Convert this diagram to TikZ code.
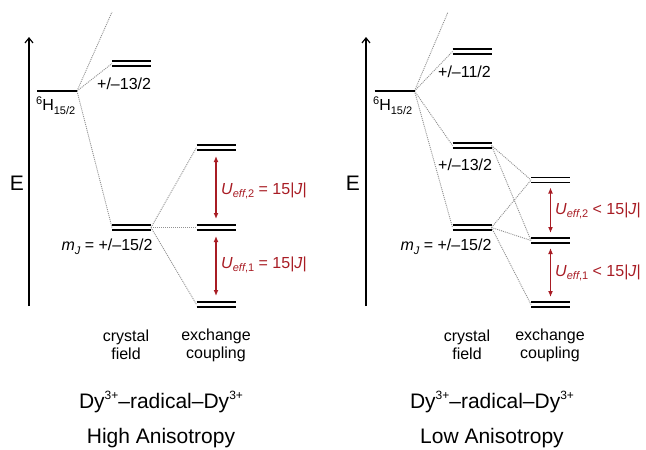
\documentclass[tikz,border=0pt]{standalone}
\usepackage{fontspec}
\setmainfont{Liberation Sans}
\usetikzlibrary{arrows.meta}
\definecolor{ured}{RGB}{168,28,36}
\definecolor{dotgray}{RGB}{145,145,145}
\newcommand{\myU}[1]{\textit{U}\raisebox{-0.45ex}{\fontsize{11}{12}\selectfont\textit{eff},#1}}
\newcommand{\myH}{\raisebox{0.7ex}{\fontsize{11}{12}\selectfont 6}H\raisebox{-0.5ex}{\fontsize{11}{12}\selectfont 15/2}}
\newcommand{\mymJ}{\textit{m}\raisebox{-0.5ex}{\fontsize{11}{12}\selectfont\textit{J}} = +/–15/2}
\newcommand{\mysup}{\raisebox{0.75ex}{\fontsize{12}{12}\selectfont 3+}}
\begin{document}
\begin{tikzpicture}[x=1pt,y=-1pt,
  lvl/.style={minimum width=39pt,minimum height=5pt,inner sep=0pt,outer sep=0pt},
  single/.style={minimum width=40pt,minimum height=0pt,inner sep=0pt,outer sep=0pt},
  lline/.style={line width=1.6pt,black},
  conn/.style={dotgray,line width=0.9pt,dash pattern=on 1pt off 1pt},
  axis/.style={line width=1.2pt,-{Straight Barb[length=5pt,width=8pt]}},
  uarrow/.style={ured,line width=1.2pt,{Latex[length=6pt,width=5pt]}-{Latex[length=6pt,width=5pt]}},
  lab/.style={font=\fontsize{16}{18}\selectfont,inner sep=0pt},
  ulab/.style={font=\fontsize{16}{18}\selectfont,inner sep=0pt,text=ured,anchor=west},
  big/.style={font=\fontsize{21}{24}\selectfont,inner sep=0pt},
  ]
\useasboundingbox (0,0) rectangle (646,450);

% ---------- axes ----------
\coordinate (la0) at (29,306);
\coordinate (la1) at (29,37);
\coordinate (ra0) at (366,306);
\coordinate (ra1) at (366,37);
\draw[axis] (la0) -- (la1);
\draw[axis] (ra0) -- (ra1);
\node[big] (lE) at (17,183) {E};
\node[big] (rE) at (353,183) {E};

% ---------- left levels ----------
\node[single] (L6H) at (57,91) {};
\node[lvl] (L13) at (131.5,63.5) {};
\node[lvl] (L15) at (131.5,227.5) {};
\node[lvl] (LX2) at (216,147.5) {};
\node[lvl] (LX1) at (216,227.5) {};
\node[lvl] (LX0) at (216,304.5) {};
\coordinate (Ltop) at (112,12);

% ---------- right levels ----------
\node[single] (R6H) at (394.5,91) {};
\node[lvl] (R11) at (472,51.5) {};
\node[lvl] (R13) at (472,145.5) {};
\node[lvl] (R15) at (472,227.5) {};
\node[lvl] (RX2) at (550.5,180) {};
\node[lvl] (RX1) at (550.5,240.5) {};
\node[lvl] (RX0) at (550.5,304.5) {};
\coordinate (Rtop) at (448,12);

% ---------- dotted connectors ----------
\draw[conn] (L6H.east) -- (Ltop);
\draw[conn] (L6H.east) -- (L13.west);
\draw[conn] (L6H.east) -- (L15.west);
\draw[conn] (L15.east) -- (LX2.west);
\draw[conn] (L15.east) -- (LX1.west);
\draw[conn] (L15.east) -- (LX0.west);

\draw[conn] (R6H.east) -- (Rtop);
\draw[conn] (R6H.east) -- (R11.west);
\draw[conn] (R6H.east) -- (R13.west);
\draw[conn] (R6H.east) -- (R15.west);
\draw[conn] (R13.east) -- (RX2.west);
\draw[conn] (R13.east) -- (RX1.west);
\draw[conn] (R15.east) -- (RX2.west);
\draw[conn] (R15.east) -- (RX1.west);
\draw[conn] (R15.east) -- (RX0.west);

% ---------- level lines ----------
\draw[lline] (L6H.west) -- (L6H.east);
\draw[lline] (R6H.west) -- (R6H.east);
\foreach \n in {L13,L15,LX2,LX1,LX0,R11,R13,R15,RX2,RX1,RX0}
  \draw[lline] (\n.north west) -- (\n.north east) (\n.south west) -- (\n.south east);

% ---------- red arrows ----------
\draw[uarrow] ([yshift=-6pt]LX2.south) -- ([yshift=6pt]LX1.north);
\draw[uarrow] ([yshift=-6pt]LX1.south) -- ([yshift=6pt]LX0.north);
\draw[uarrow] ([yshift=-5pt]RX2.south) -- ([yshift=5pt]RX1.north);
\draw[uarrow] ([yshift=-5pt]RX1.south) -- ([yshift=5pt]RX0.north);

% ---------- labels ----------
\node[lab,anchor=west] (tL6H) at (36,106) {\myH};
\node[lab,anchor=west] (tL13) at (97,84) {+/–13/2};
\node[lab] (tL15) at (107,247) {\mymJ};
\node[ulab] (tLU2) at (221,191) {\myU{2} = 15|\textit{J}|};
\node[ulab] (tLU1) at (221,265) {\myU{1} = 15|\textit{J}|};

\node[lab,anchor=west] (tR6H) at (373,106) {\myH};
\node[lab,anchor=west] (tR11) at (438,72) {+/–11/2};
\node[lab,anchor=west] (tR13) at (438,165) {+/–13/2};
\node[lab] (tR15) at (446,247) {\mymJ};
\node[ulab] (tRU2) at (555,211) {\myU{2} < 15|\textit{J}|};
\node[ulab] (tRU1) at (555,273) {\myU{1} < 15|\textit{J}|};

\node[lab,align=center] (tLcf) at (126,345) {crystal\\field};
\node[lab,align=center] (tLex) at (216,345) {exchange\\coupling};
\node[lab,align=center] (tRcf) at (467,345) {crystal\\field};
\node[lab,align=center] (tRex) at (550,345) {exchange\\coupling};

\node[big] (tLdy) at (161,402) {Dy\mysup–radical–Dy\mysup};
\node[big] (tLan) at (161,438) {High Anisotropy};
\node[big] (tRdy) at (492,402) {Dy\mysup–radical–Dy\mysup};
\node[big] (tRan) at (492,438) {Low Anisotropy};
\end{tikzpicture}
\end{document}
